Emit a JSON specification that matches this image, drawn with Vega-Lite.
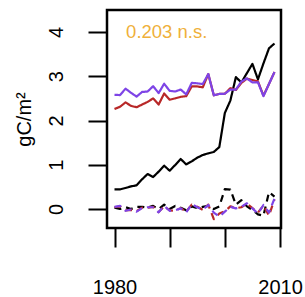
{
  "$schema": "https://vega.github.io/schema/vega-lite/v6.json",
  "width": 174,
  "height": 218,
  "autosize": "none",
  "padding": {"left": 107, "top": 10, "right": 24, "bottom": 69},
  "config": {
    "view": {"stroke": "black", "strokeWidth": 2.5},
    "font": "Liberation Sans"
  },
  "datasets": {
    "series": [
      {"year": 1980, "black": 0.444, "red": 2.26, "purple": 2.58, "black_d": 0.03, "red_d": 0.04, "purple_d": 0.05},
      {"year": 1981, "black": 0.444, "red": 2.31, "purple": 2.575, "black_d": 0.0, "red_d": 0.06, "purple_d": 0.07},
      {"year": 1982, "black": 0.475, "red": 2.41, "purple": 2.72, "black_d": 0.04, "red_d": -0.03, "purple_d": -0.04},
      {"year": 1983, "black": 0.512, "red": 2.33, "purple": 2.625, "black_d": 0.0, "red_d": -0.02, "purple_d": -0.01},
      {"year": 1984, "black": 0.535, "red": 2.30, "purple": 2.54, "black_d": 0.05, "red_d": -0.05, "purple_d": -0.06},
      {"year": 1985, "black": 0.671, "red": 2.36, "purple": 2.645, "black_d": 0.05, "red_d": 0.03, "purple_d": 0.02},
      {"year": 1986, "black": 0.791, "red": 2.42, "purple": 2.655, "black_d": 0.03, "red_d": 0.03, "purple_d": 0.04},
      {"year": 1987, "black": 0.723, "red": 2.50, "purple": 2.775, "black_d": 0.07, "red_d": 0.05, "purple_d": 0.04},
      {"year": 1988, "black": 0.844, "red": 2.36, "purple": 2.62, "black_d": 0.0, "red_d": -0.07, "purple_d": -0.075},
      {"year": 1989, "black": 0.979, "red": 2.61, "purple": 2.83, "black_d": 0.10, "red_d": 0.06, "purple_d": 0.07},
      {"year": 1990, "black": 0.866, "red": 2.47, "purple": 2.67, "black_d": 0.0, "red_d": -0.03, "purple_d": -0.04},
      {"year": 1991, "black": 0.994, "red": 2.50, "purple": 2.655, "black_d": 0.07, "red_d": -0.04, "purple_d": -0.03},
      {"year": 1992, "black": 1.130, "red": 2.535, "purple": 2.70, "black_d": 0.03, "red_d": 0.02, "purple_d": 0.015},
      {"year": 1993, "black": 1.009, "red": 2.55, "purple": 2.59, "black_d": -0.03, "red_d": -0.06, "purple_d": -0.075},
      {"year": 1994, "black": 1.077, "red": 2.77, "purple": 2.85, "black_d": 0.06, "red_d": 0.10, "purple_d": 0.11},
      {"year": 1995, "black": 1.160, "red": 2.77, "purple": 2.84, "black_d": 0.02, "red_d": 0.05, "purple_d": 0.04},
      {"year": 1996, "black": 1.220, "red": 2.75, "purple": 2.825, "black_d": 0.05, "red_d": -0.02, "purple_d": -0.01},
      {"year": 1997, "black": 1.258, "red": 3.05, "purple": 3.05, "black_d": 0.07, "red_d": 0.10, "purple_d": 0.09},
      {"year": 1998, "black": 1.290, "red": 2.57, "purple": 2.57, "black_d": 0.0, "red_d": -0.23, "purple_d": -0.08},
      {"year": 1999, "black": 1.400, "red": 2.60, "purple": 2.60, "black_d": 0.06, "red_d": -0.10, "purple_d": -0.17},
      {"year": 2000, "black": 2.170, "red": 2.605, "purple": 2.605, "black_d": 0.45, "red_d": -0.05, "purple_d": -0.06},
      {"year": 2001, "black": 2.450, "red": 2.73, "purple": 2.70, "black_d": 0.44, "red_d": 0.06, "purple_d": 0.05},
      {"year": 2002, "black": 2.980, "red": 2.69, "purple": 2.70, "black_d": 0.10, "red_d": 0.02, "purple_d": 0.015},
      {"year": 2003, "black": 2.860, "red": 2.85, "purple": 2.88, "black_d": 0.20, "red_d": 0.04, "purple_d": 0.05},
      {"year": 2004, "black": 3.070, "red": 2.945, "purple": 2.95, "black_d": 0.06, "red_d": 0.12, "purple_d": 0.13},
      {"year": 2005, "black": 3.280, "red": 2.915, "purple": 2.86, "black_d": -0.02, "red_d": 0.02, "purple_d": 0.015},
      {"year": 2006, "black": 2.930, "red": 2.885, "purple": 2.865, "black_d": -0.12, "red_d": -0.08, "purple_d": -0.10},
      {"year": 2007, "black": 3.290, "red": 2.56, "purple": 2.55, "black_d": -0.15, "red_d": 0.08, "purple_d": 0.09},
      {"year": 2008, "black": 3.630, "red": 2.825, "purple": 2.825, "black_d": 0.38, "red_d": -0.15, "purple_d": -0.08},
      {"year": 2009, "black": 3.740, "red": 3.096, "purple": 3.095, "black_d": 0.28, "red_d": 0.22, "purple_d": 0.24}
    ],
    "note": [
      {"year": 1982.1, "value": 3.865, "label": "0.203 n.s."}
    ]
  },
  "layer": [
    {
      "data": {"name": "series"},
      "transform": [
        {"fold": ["black", "red", "purple", "black_d", "red_d", "purple_d"], "as": ["key", "value"]}
      ],
      "mark": {"type": "line", "strokeWidth": 2.2, "strokeJoin": "round", "clip": true},
      "encoding": {
        "x": {
          "field": "year", "type": "quantitative",
          "scale": {"domain": [1978.64, 2010.18], "nice": false, "zero": false},
          "axis": {
            "title": null,
            "values": [1980, 1985, 1990, 1995, 2000, 2005, 2010],
            "format": "d",
            "labelExpr": "datum.value % 15 == 0 ? datum.label : ''",
            "domain": false, "grid": false,
            "tickSize": 19, "tickWidth": 2, "tickColor": "black",
            "labelFontSize": 20, "labelColor": "black", "labelFont": "Liberation Sans",
            "labelBaseline": "alphabetic", "labelPadding": 46, "labelFlush": false,
            "labelOverlap": false
          }
        },
        "y": {
          "field": "value", "type": "quantitative",
          "scale": {"domain": [-0.429, 4.497], "nice": false, "zero": false},
          "axis": {
            "title": "gC/m²",
            "values": [0, 1, 2, 3, 4],
            "domain": false, "grid": false,
            "tickSize": 19, "tickWidth": 2, "tickColor": "black",
            "labelFontSize": 20, "labelColor": "black", "labelFont": "Liberation Sans",
            "labelAngle": 270, "labelAlign": "center", "labelBaseline": "alphabetic",
            "labelPadding": 26, "labelFlush": false, "labelOverlap": false,
            "titleFontSize": 20, "titleFontWeight": "normal", "titleColor": "black",
            "titleFont": "Liberation Sans", "titlePadding": 12
          }
        },
        "color": {
          "field": "key", "type": "nominal",
          "scale": {
            "domain": ["black", "red", "purple", "black_d", "red_d", "purple_d"],
            "range": ["#000000", "#B82828", "#7E44E6", "#000000", "#B82828", "#7E44E6"]
          },
          "legend": null
        },
        "strokeDash": {
          "field": "key", "type": "nominal",
          "scale": {
            "domain": ["black", "red", "purple", "black_d", "red_d", "purple_d"],
            "range": [[1, 0], [1, 0], [1, 0], [7, 5], [7, 5], [7, 5]]
          },
          "legend": null
        }
      }
    },
    {
      "data": {"name": "note"},
      "mark": {"type": "text", "align": "left", "baseline": "alphabetic", "fontSize": 18.5, "font": "Liberation Sans", "color": "#EFB03A"},
      "encoding": {
        "x": {"field": "year", "type": "quantitative"},
        "y": {"field": "value", "type": "quantitative"},
        "text": {"field": "label"}
      }
    }
  ]
}
